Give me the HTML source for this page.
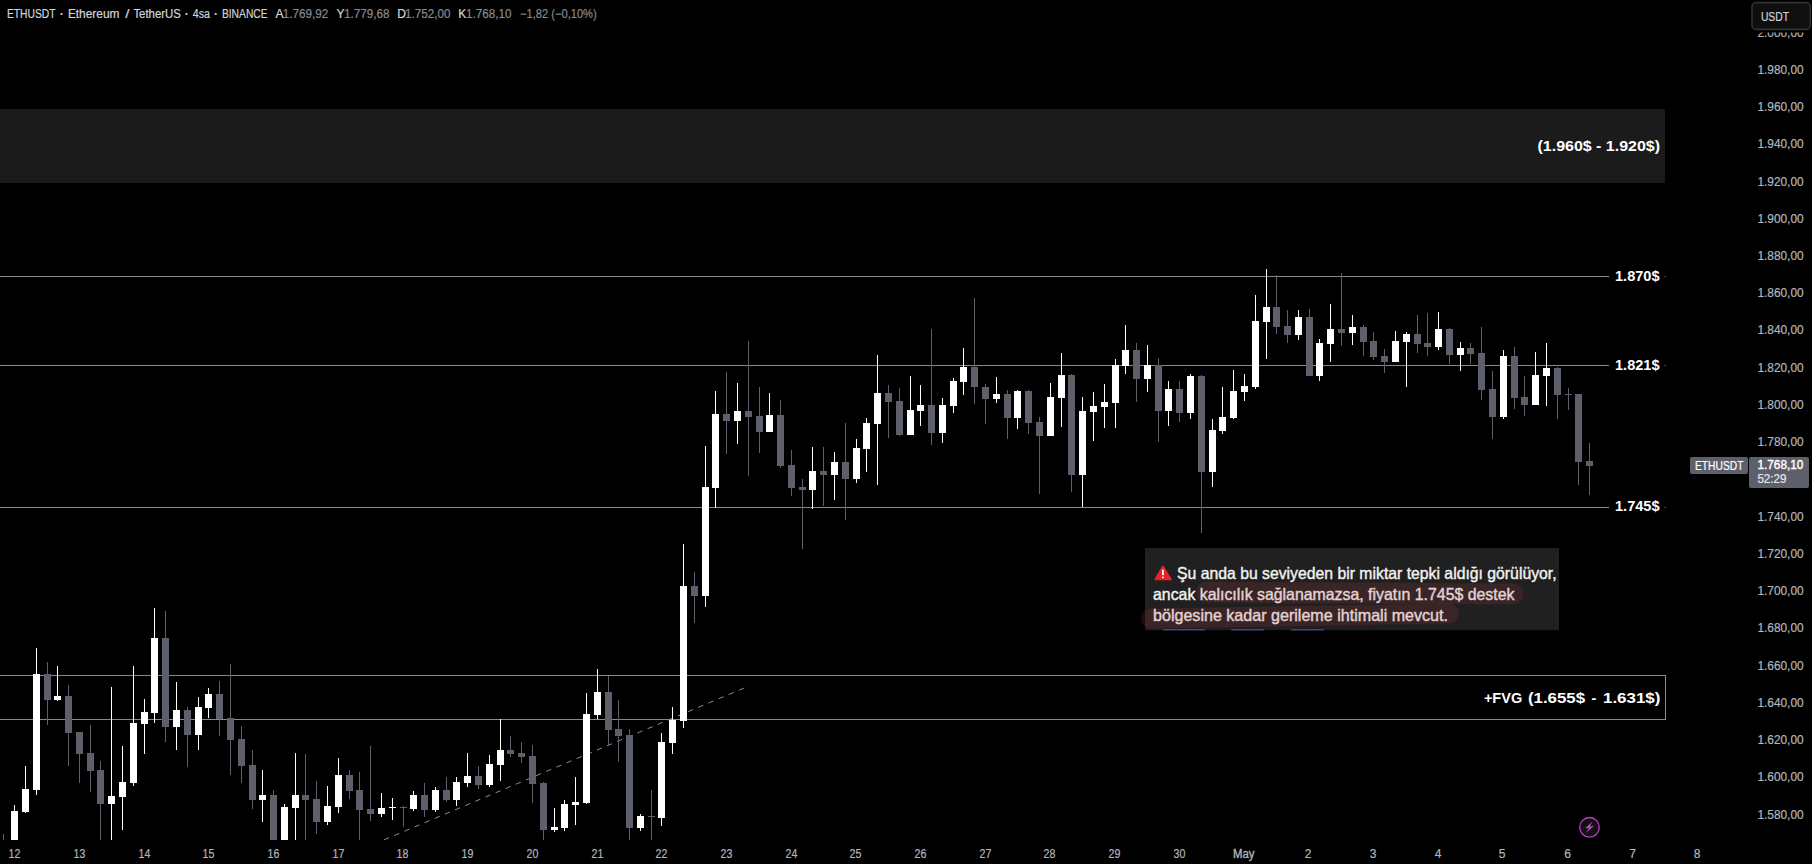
<!DOCTYPE html>
<html lang="tr"><head><meta charset="utf-8"><title>ETHUSDT</title>
<style>
html,body{margin:0;padding:0;background:#000;overflow:hidden}
body{width:1812px;height:864px;font-family:"Liberation Sans", Arial, sans-serif}
svg{display:block}
</style></head><body>
<svg width="1812" height="864" viewBox="0 0 1812 864" font-family='"Liberation Sans", Arial, sans-serif' shape-rendering="crispEdges">
<rect width="1812" height="864" fill="#000"/>
<rect x="0" y="109" width="1665" height="74" fill="#1b1b1b"/>
<rect x="0" y="276" width="1609" height="1" fill="#8a8a8a"/>
<rect x="0" y="365" width="1609" height="1" fill="#8a8a8a"/>
<rect x="0" y="507" width="1609" height="1" fill="#8a8a8a"/>
<rect x="1664" y="276" width="2" height="1" fill="#3c3c3c"/>
<rect x="1664" y="365" width="2" height="1" fill="#3c3c3c"/>
<rect x="1664" y="507" width="2" height="1" fill="#3c3c3c"/>
<rect x="-2.5" y="675.5" width="1668" height="44" fill="none" stroke="#8a8a8a" stroke-width="1"/>
<line x1="383.6" y1="840" x2="744.2" y2="688" stroke="#8f8f8f" stroke-width="1" stroke-dasharray="5.4 5.6" stroke-dashoffset="-0.5" shape-rendering="geometricPrecision"/>
<g>
<rect x="3" y="834" width="1" height="6" fill="#5d606b"/>
<rect x="14" y="805" width="1" height="35" fill="#ffffff"/>
<rect x="11" y="811" width="7" height="29" fill="#ffffff"/>
<rect x="25" y="766" width="1" height="47" fill="#ffffff"/>
<rect x="22" y="789" width="7" height="23" fill="#ffffff"/>
<rect x="36" y="648" width="1" height="147" fill="#ffffff"/>
<rect x="33" y="674" width="7" height="116" fill="#ffffff"/>
<rect x="47" y="662" width="1" height="63" fill="#5d606b"/>
<rect x="44" y="674" width="7" height="26" fill="#5d606b"/>
<rect x="57" y="666" width="1" height="35" fill="#ffffff"/>
<rect x="54" y="696" width="7" height="4" fill="#ffffff"/>
<rect x="68" y="685" width="1" height="81" fill="#5d606b"/>
<rect x="65" y="696" width="7" height="37" fill="#5d606b"/>
<rect x="79" y="732" width="1" height="51" fill="#5d606b"/>
<rect x="76" y="732" width="7" height="22" fill="#5d606b"/>
<rect x="90" y="725" width="1" height="67" fill="#5d606b"/>
<rect x="87" y="753" width="7" height="18" fill="#5d606b"/>
<rect x="100" y="761" width="1" height="79" fill="#5d606b"/>
<rect x="97" y="770" width="7" height="34" fill="#5d606b"/>
<rect x="111" y="687" width="1" height="153" fill="#ffffff"/>
<rect x="108" y="796" width="7" height="8" fill="#ffffff"/>
<rect x="122" y="746" width="1" height="84" fill="#ffffff"/>
<rect x="119" y="782" width="7" height="15" fill="#ffffff"/>
<rect x="133" y="666" width="1" height="120" fill="#ffffff"/>
<rect x="130" y="723" width="7" height="60" fill="#ffffff"/>
<rect x="144" y="699" width="1" height="55" fill="#ffffff"/>
<rect x="141" y="712" width="7" height="12" fill="#ffffff"/>
<rect x="154" y="608" width="1" height="115" fill="#ffffff"/>
<rect x="151" y="638" width="7" height="75" fill="#ffffff"/>
<rect x="165" y="611" width="1" height="131" fill="#5d606b"/>
<rect x="162" y="638" width="7" height="89" fill="#5d606b"/>
<rect x="176" y="682" width="1" height="68" fill="#ffffff"/>
<rect x="173" y="710" width="7" height="17" fill="#ffffff"/>
<rect x="187" y="707" width="1" height="60" fill="#5d606b"/>
<rect x="184" y="710" width="7" height="25" fill="#5d606b"/>
<rect x="198" y="697" width="1" height="53" fill="#ffffff"/>
<rect x="195" y="707" width="7" height="28" fill="#ffffff"/>
<rect x="208" y="688" width="1" height="30" fill="#ffffff"/>
<rect x="205" y="694" width="7" height="14" fill="#ffffff"/>
<rect x="219" y="681" width="1" height="55" fill="#5d606b"/>
<rect x="216" y="694" width="7" height="25" fill="#5d606b"/>
<rect x="230" y="664" width="1" height="111" fill="#5d606b"/>
<rect x="227" y="718" width="7" height="22" fill="#5d606b"/>
<rect x="241" y="726" width="1" height="57" fill="#5d606b"/>
<rect x="238" y="739" width="7" height="27" fill="#5d606b"/>
<rect x="252" y="750" width="1" height="59" fill="#5d606b"/>
<rect x="249" y="765" width="7" height="35" fill="#5d606b"/>
<rect x="262" y="770" width="1" height="52" fill="#ffffff"/>
<rect x="259" y="795" width="7" height="5" fill="#ffffff"/>
<rect x="273" y="790" width="1" height="50" fill="#5d606b"/>
<rect x="270" y="795" width="7" height="45" fill="#5d606b"/>
<rect x="284" y="804" width="1" height="36" fill="#ffffff"/>
<rect x="281" y="807" width="7" height="33" fill="#ffffff"/>
<rect x="295" y="753" width="1" height="87" fill="#ffffff"/>
<rect x="292" y="795" width="7" height="13" fill="#ffffff"/>
<rect x="305" y="754" width="1" height="86" fill="#5d606b"/>
<rect x="302" y="795" width="7" height="5" fill="#5d606b"/>
<rect x="316" y="781" width="1" height="53" fill="#5d606b"/>
<rect x="313" y="799" width="7" height="23" fill="#5d606b"/>
<rect x="327" y="786" width="1" height="39" fill="#ffffff"/>
<rect x="324" y="806" width="7" height="16" fill="#ffffff"/>
<rect x="338" y="758" width="1" height="55" fill="#ffffff"/>
<rect x="335" y="775" width="7" height="32" fill="#ffffff"/>
<rect x="349" y="770" width="1" height="29" fill="#5d606b"/>
<rect x="346" y="775" width="7" height="16" fill="#5d606b"/>
<rect x="359" y="772" width="1" height="68" fill="#5d606b"/>
<rect x="356" y="790" width="7" height="20" fill="#5d606b"/>
<rect x="370" y="746" width="1" height="75" fill="#5d606b"/>
<rect x="367" y="809" width="7" height="5" fill="#5d606b"/>
<rect x="381" y="793" width="1" height="24" fill="#ffffff"/>
<rect x="378" y="808" width="7" height="6" fill="#ffffff"/>
<rect x="392" y="798" width="1" height="22" fill="#ffffff"/>
<rect x="389" y="807" width="7" height="1" fill="#ffffff"/>
<rect x="403" y="806" width="1" height="21" fill="#5d606b"/>
<rect x="400" y="807" width="7" height="1" fill="#5d606b"/>
<rect x="413" y="791" width="1" height="20" fill="#ffffff"/>
<rect x="410" y="795" width="7" height="14" fill="#ffffff"/>
<rect x="424" y="783" width="1" height="34" fill="#5d606b"/>
<rect x="421" y="795" width="7" height="15" fill="#5d606b"/>
<rect x="435" y="787" width="1" height="25" fill="#ffffff"/>
<rect x="432" y="790" width="7" height="20" fill="#ffffff"/>
<rect x="446" y="777" width="1" height="25" fill="#5d606b"/>
<rect x="443" y="790" width="7" height="10" fill="#5d606b"/>
<rect x="456" y="777" width="1" height="29" fill="#ffffff"/>
<rect x="453" y="782" width="7" height="18" fill="#ffffff"/>
<rect x="467" y="753" width="1" height="34" fill="#ffffff"/>
<rect x="464" y="776" width="7" height="7" fill="#ffffff"/>
<rect x="478" y="766" width="1" height="23" fill="#5d606b"/>
<rect x="475" y="776" width="7" height="9" fill="#5d606b"/>
<rect x="489" y="755" width="1" height="32" fill="#ffffff"/>
<rect x="486" y="764" width="7" height="21" fill="#ffffff"/>
<rect x="500" y="719" width="1" height="62" fill="#ffffff"/>
<rect x="497" y="750" width="7" height="15" fill="#ffffff"/>
<rect x="510" y="736" width="1" height="21" fill="#5d606b"/>
<rect x="507" y="750" width="7" height="4" fill="#5d606b"/>
<rect x="521" y="742" width="1" height="21" fill="#5d606b"/>
<rect x="518" y="753" width="7" height="4" fill="#5d606b"/>
<rect x="532" y="745" width="1" height="58" fill="#5d606b"/>
<rect x="529" y="756" width="7" height="28" fill="#5d606b"/>
<rect x="543" y="782" width="1" height="58" fill="#5d606b"/>
<rect x="540" y="783" width="7" height="47" fill="#5d606b"/>
<rect x="554" y="808" width="1" height="24" fill="#ffffff"/>
<rect x="551" y="827" width="7" height="3" fill="#ffffff"/>
<rect x="564" y="800" width="1" height="31" fill="#ffffff"/>
<rect x="561" y="804" width="7" height="24" fill="#ffffff"/>
<rect x="575" y="777" width="1" height="48" fill="#ffffff"/>
<rect x="572" y="802" width="7" height="3" fill="#ffffff"/>
<rect x="586" y="693" width="1" height="111" fill="#ffffff"/>
<rect x="583" y="714" width="7" height="89" fill="#ffffff"/>
<rect x="597" y="669" width="1" height="50" fill="#ffffff"/>
<rect x="594" y="692" width="7" height="23" fill="#ffffff"/>
<rect x="608" y="676" width="1" height="69" fill="#5d606b"/>
<rect x="605" y="692" width="7" height="38" fill="#5d606b"/>
<rect x="618" y="700" width="1" height="62" fill="#5d606b"/>
<rect x="615" y="729" width="7" height="7" fill="#5d606b"/>
<rect x="629" y="729" width="1" height="111" fill="#5d606b"/>
<rect x="626" y="735" width="7" height="93" fill="#5d606b"/>
<rect x="640" y="814" width="1" height="17" fill="#ffffff"/>
<rect x="637" y="816" width="7" height="12" fill="#ffffff"/>
<rect x="651" y="790" width="1" height="50" fill="#5d606b"/>
<rect x="648" y="816" width="7" height="1" fill="#5d606b"/>
<rect x="661" y="733" width="1" height="93" fill="#ffffff"/>
<rect x="658" y="742" width="7" height="76" fill="#ffffff"/>
<rect x="672" y="707" width="1" height="47" fill="#ffffff"/>
<rect x="669" y="720" width="7" height="23" fill="#ffffff"/>
<rect x="683" y="544" width="1" height="184" fill="#ffffff"/>
<rect x="680" y="586" width="7" height="135" fill="#ffffff"/>
<rect x="694" y="572" width="1" height="51" fill="#5d606b"/>
<rect x="691" y="586" width="7" height="10" fill="#5d606b"/>
<rect x="705" y="446" width="1" height="161" fill="#ffffff"/>
<rect x="702" y="487" width="7" height="109" fill="#ffffff"/>
<rect x="715" y="391" width="1" height="117" fill="#ffffff"/>
<rect x="712" y="414" width="7" height="74" fill="#ffffff"/>
<rect x="726" y="372" width="1" height="82" fill="#5d606b"/>
<rect x="723" y="414" width="7" height="7" fill="#5d606b"/>
<rect x="737" y="383" width="1" height="61" fill="#ffffff"/>
<rect x="734" y="411" width="7" height="10" fill="#ffffff"/>
<rect x="748" y="341" width="1" height="135" fill="#5d606b"/>
<rect x="745" y="411" width="7" height="6" fill="#5d606b"/>
<rect x="759" y="387" width="1" height="66" fill="#5d606b"/>
<rect x="756" y="416" width="7" height="16" fill="#5d606b"/>
<rect x="769" y="393" width="1" height="39" fill="#ffffff"/>
<rect x="766" y="415" width="7" height="17" fill="#ffffff"/>
<rect x="780" y="400" width="1" height="68" fill="#5d606b"/>
<rect x="777" y="415" width="7" height="51" fill="#5d606b"/>
<rect x="791" y="450" width="1" height="46" fill="#5d606b"/>
<rect x="788" y="465" width="7" height="23" fill="#5d606b"/>
<rect x="802" y="479" width="1" height="70" fill="#5d606b"/>
<rect x="799" y="487" width="7" height="3" fill="#5d606b"/>
<rect x="812" y="447" width="1" height="62" fill="#ffffff"/>
<rect x="809" y="471" width="7" height="19" fill="#ffffff"/>
<rect x="823" y="447" width="1" height="59" fill="#5d606b"/>
<rect x="820" y="471" width="7" height="4" fill="#5d606b"/>
<rect x="834" y="452" width="1" height="48" fill="#ffffff"/>
<rect x="831" y="462" width="7" height="13" fill="#ffffff"/>
<rect x="845" y="423" width="1" height="97" fill="#5d606b"/>
<rect x="842" y="462" width="7" height="17" fill="#5d606b"/>
<rect x="856" y="439" width="1" height="44" fill="#ffffff"/>
<rect x="853" y="448" width="7" height="31" fill="#ffffff"/>
<rect x="866" y="418" width="1" height="54" fill="#ffffff"/>
<rect x="863" y="423" width="7" height="26" fill="#ffffff"/>
<rect x="877" y="355" width="1" height="130" fill="#ffffff"/>
<rect x="874" y="393" width="7" height="31" fill="#ffffff"/>
<rect x="888" y="385" width="1" height="53" fill="#5d606b"/>
<rect x="885" y="393" width="7" height="9" fill="#5d606b"/>
<rect x="899" y="388" width="1" height="48" fill="#5d606b"/>
<rect x="896" y="401" width="7" height="34" fill="#5d606b"/>
<rect x="910" y="376" width="1" height="59" fill="#ffffff"/>
<rect x="907" y="410" width="7" height="25" fill="#ffffff"/>
<rect x="920" y="385" width="1" height="41" fill="#ffffff"/>
<rect x="917" y="405" width="7" height="6" fill="#ffffff"/>
<rect x="931" y="329" width="1" height="116" fill="#5d606b"/>
<rect x="928" y="405" width="7" height="28" fill="#5d606b"/>
<rect x="942" y="398" width="1" height="45" fill="#ffffff"/>
<rect x="939" y="405" width="7" height="28" fill="#ffffff"/>
<rect x="953" y="378" width="1" height="35" fill="#ffffff"/>
<rect x="950" y="381" width="7" height="25" fill="#ffffff"/>
<rect x="963" y="348" width="1" height="47" fill="#ffffff"/>
<rect x="960" y="367" width="7" height="15" fill="#ffffff"/>
<rect x="974" y="298" width="1" height="106" fill="#5d606b"/>
<rect x="971" y="367" width="7" height="20" fill="#5d606b"/>
<rect x="985" y="384" width="1" height="40" fill="#5d606b"/>
<rect x="982" y="387" width="7" height="12" fill="#5d606b"/>
<rect x="996" y="377" width="1" height="26" fill="#ffffff"/>
<rect x="993" y="394" width="7" height="5" fill="#ffffff"/>
<rect x="1007" y="390" width="1" height="49" fill="#5d606b"/>
<rect x="1004" y="394" width="7" height="24" fill="#5d606b"/>
<rect x="1017" y="390" width="1" height="39" fill="#ffffff"/>
<rect x="1014" y="391" width="7" height="27" fill="#ffffff"/>
<rect x="1028" y="390" width="1" height="44" fill="#5d606b"/>
<rect x="1025" y="391" width="7" height="32" fill="#5d606b"/>
<rect x="1039" y="417" width="1" height="77" fill="#5d606b"/>
<rect x="1036" y="422" width="7" height="14" fill="#5d606b"/>
<rect x="1050" y="383" width="1" height="53" fill="#ffffff"/>
<rect x="1047" y="397" width="7" height="39" fill="#ffffff"/>
<rect x="1061" y="353" width="1" height="74" fill="#ffffff"/>
<rect x="1058" y="375" width="7" height="23" fill="#ffffff"/>
<rect x="1071" y="374" width="1" height="118" fill="#5d606b"/>
<rect x="1068" y="375" width="7" height="100" fill="#5d606b"/>
<rect x="1082" y="397" width="1" height="110" fill="#ffffff"/>
<rect x="1079" y="411" width="7" height="64" fill="#ffffff"/>
<rect x="1093" y="392" width="1" height="49" fill="#ffffff"/>
<rect x="1090" y="406" width="7" height="6" fill="#ffffff"/>
<rect x="1104" y="384" width="1" height="44" fill="#ffffff"/>
<rect x="1101" y="402" width="7" height="5" fill="#ffffff"/>
<rect x="1115" y="359" width="1" height="69" fill="#ffffff"/>
<rect x="1112" y="365" width="7" height="38" fill="#ffffff"/>
<rect x="1125" y="325" width="1" height="49" fill="#ffffff"/>
<rect x="1122" y="350" width="7" height="16" fill="#ffffff"/>
<rect x="1136" y="343" width="1" height="59" fill="#5d606b"/>
<rect x="1133" y="350" width="7" height="29" fill="#5d606b"/>
<rect x="1147" y="345" width="1" height="47" fill="#ffffff"/>
<rect x="1144" y="365" width="7" height="14" fill="#ffffff"/>
<rect x="1158" y="358" width="1" height="84" fill="#5d606b"/>
<rect x="1155" y="365" width="7" height="46" fill="#5d606b"/>
<rect x="1168" y="381" width="1" height="45" fill="#ffffff"/>
<rect x="1165" y="389" width="7" height="22" fill="#ffffff"/>
<rect x="1179" y="381" width="1" height="41" fill="#5d606b"/>
<rect x="1176" y="389" width="7" height="24" fill="#5d606b"/>
<rect x="1190" y="374" width="1" height="45" fill="#ffffff"/>
<rect x="1187" y="376" width="7" height="37" fill="#ffffff"/>
<rect x="1201" y="375" width="1" height="158" fill="#5d606b"/>
<rect x="1198" y="376" width="7" height="96" fill="#5d606b"/>
<rect x="1212" y="419" width="1" height="68" fill="#ffffff"/>
<rect x="1209" y="430" width="7" height="42" fill="#ffffff"/>
<rect x="1222" y="387" width="1" height="47" fill="#ffffff"/>
<rect x="1219" y="417" width="7" height="14" fill="#ffffff"/>
<rect x="1233" y="370" width="1" height="49" fill="#ffffff"/>
<rect x="1230" y="391" width="7" height="27" fill="#ffffff"/>
<rect x="1244" y="374" width="1" height="27" fill="#ffffff"/>
<rect x="1241" y="386" width="7" height="6" fill="#ffffff"/>
<rect x="1255" y="295" width="1" height="94" fill="#ffffff"/>
<rect x="1252" y="321" width="7" height="66" fill="#ffffff"/>
<rect x="1266" y="269" width="1" height="90" fill="#ffffff"/>
<rect x="1263" y="307" width="7" height="15" fill="#ffffff"/>
<rect x="1276" y="275" width="1" height="59" fill="#5d606b"/>
<rect x="1273" y="307" width="7" height="20" fill="#5d606b"/>
<rect x="1287" y="310" width="1" height="33" fill="#5d606b"/>
<rect x="1284" y="326" width="7" height="9" fill="#5d606b"/>
<rect x="1298" y="310" width="1" height="30" fill="#ffffff"/>
<rect x="1295" y="317" width="7" height="18" fill="#ffffff"/>
<rect x="1309" y="309" width="1" height="67" fill="#5d606b"/>
<rect x="1306" y="317" width="7" height="59" fill="#5d606b"/>
<rect x="1319" y="339" width="1" height="42" fill="#ffffff"/>
<rect x="1316" y="343" width="7" height="33" fill="#ffffff"/>
<rect x="1330" y="304" width="1" height="58" fill="#ffffff"/>
<rect x="1327" y="329" width="7" height="15" fill="#ffffff"/>
<rect x="1341" y="273" width="1" height="73" fill="#5d606b"/>
<rect x="1338" y="329" width="7" height="4" fill="#5d606b"/>
<rect x="1352" y="315" width="1" height="30" fill="#ffffff"/>
<rect x="1349" y="327" width="7" height="6" fill="#ffffff"/>
<rect x="1363" y="325" width="1" height="31" fill="#5d606b"/>
<rect x="1360" y="327" width="7" height="15" fill="#5d606b"/>
<rect x="1373" y="332" width="1" height="28" fill="#5d606b"/>
<rect x="1370" y="341" width="7" height="16" fill="#5d606b"/>
<rect x="1384" y="349" width="1" height="24" fill="#5d606b"/>
<rect x="1381" y="356" width="7" height="6" fill="#5d606b"/>
<rect x="1395" y="331" width="1" height="31" fill="#ffffff"/>
<rect x="1392" y="341" width="7" height="21" fill="#ffffff"/>
<rect x="1406" y="332" width="1" height="55" fill="#ffffff"/>
<rect x="1403" y="334" width="7" height="8" fill="#ffffff"/>
<rect x="1417" y="315" width="1" height="38" fill="#5d606b"/>
<rect x="1414" y="334" width="7" height="10" fill="#5d606b"/>
<rect x="1427" y="313" width="1" height="43" fill="#5d606b"/>
<rect x="1424" y="343" width="7" height="4" fill="#5d606b"/>
<rect x="1438" y="312" width="1" height="38" fill="#ffffff"/>
<rect x="1435" y="329" width="7" height="18" fill="#ffffff"/>
<rect x="1449" y="328" width="1" height="36" fill="#5d606b"/>
<rect x="1446" y="329" width="7" height="26" fill="#5d606b"/>
<rect x="1460" y="342" width="1" height="29" fill="#ffffff"/>
<rect x="1457" y="348" width="7" height="7" fill="#ffffff"/>
<rect x="1470" y="343" width="1" height="21" fill="#5d606b"/>
<rect x="1467" y="348" width="7" height="6" fill="#5d606b"/>
<rect x="1481" y="327" width="1" height="73" fill="#5d606b"/>
<rect x="1478" y="353" width="7" height="37" fill="#5d606b"/>
<rect x="1492" y="371" width="1" height="68" fill="#5d606b"/>
<rect x="1489" y="389" width="7" height="28" fill="#5d606b"/>
<rect x="1503" y="350" width="1" height="69" fill="#ffffff"/>
<rect x="1500" y="356" width="7" height="61" fill="#ffffff"/>
<rect x="1514" y="347" width="1" height="62" fill="#5d606b"/>
<rect x="1511" y="356" width="7" height="42" fill="#5d606b"/>
<rect x="1524" y="376" width="1" height="40" fill="#5d606b"/>
<rect x="1521" y="397" width="7" height="8" fill="#5d606b"/>
<rect x="1535" y="352" width="1" height="53" fill="#ffffff"/>
<rect x="1532" y="375" width="7" height="30" fill="#ffffff"/>
<rect x="1546" y="343" width="1" height="63" fill="#ffffff"/>
<rect x="1543" y="368" width="7" height="8" fill="#ffffff"/>
<rect x="1557" y="367" width="1" height="52" fill="#5d606b"/>
<rect x="1554" y="368" width="7" height="27" fill="#5d606b"/>
<rect x="1568" y="388" width="1" height="22" fill="#5d606b"/>
<rect x="1565" y="394" width="7" height="1" fill="#5d606b"/>
<rect x="1578" y="394" width="1" height="91" fill="#5d606b"/>
<rect x="1575" y="394" width="7" height="68" fill="#5d606b"/>
<rect x="1589" y="443" width="1" height="52" fill="#5d606b"/>
<rect x="1586" y="461" width="7" height="5" fill="#5d606b"/>
</g>
<rect x="0" y="840" width="1812" height="24" fill="#000"/>
<g shape-rendering="geometricPrecision">
<text y="17.96" font-size="12"><tspan x="6.9" fill="#d1d4dc" textLength="48.4" lengthAdjust="spacingAndGlyphs" stroke="#d1d4dc" stroke-width="0.2">ETHUSDT</tspan> <tspan x="59.7" fill="#d1d4dc" font-weight="bold">·</tspan> <tspan x="67.9" fill="#d1d4dc" textLength="51.5" lengthAdjust="spacingAndGlyphs" stroke="#d1d4dc" stroke-width="0.2">Ethereum</tspan> <tspan x="125.2" fill="#d1d4dc" textLength="4.2" lengthAdjust="spacingAndGlyphs" stroke="#d1d4dc" stroke-width="0.2">/</tspan> <tspan x="133.4" fill="#d1d4dc" textLength="47.6" lengthAdjust="spacingAndGlyphs" stroke="#d1d4dc" stroke-width="0.2">TetherUS</tspan> <tspan x="184.7" fill="#d1d4dc" font-weight="bold">·</tspan> <tspan x="192.8" fill="#d1d4dc" textLength="17.2" lengthAdjust="spacingAndGlyphs" stroke="#d1d4dc" stroke-width="0.2">4sa</tspan> <tspan x="214.0" fill="#d1d4dc" font-weight="bold">·</tspan> <tspan x="221.9" fill="#d1d4dc" textLength="45.7" lengthAdjust="spacingAndGlyphs" stroke="#d1d4dc" stroke-width="0.2">BINANCE</tspan> <tspan x="275.5" fill="#d1d4dc" stroke="#d1d4dc" stroke-width="0.2">A</tspan> <tspan x="282.7" fill="#868993" textLength="45.6" lengthAdjust="spacingAndGlyphs" stroke="#868993" stroke-width="0.2">1.769,92</tspan> <tspan x="336.5" fill="#d1d4dc" stroke="#d1d4dc" stroke-width="0.2">Y</tspan> <tspan x="344" fill="#868993" textLength="45.6" lengthAdjust="spacingAndGlyphs" stroke="#868993" stroke-width="0.2">1.779,68</tspan> <tspan x="397.3" fill="#d1d4dc" stroke="#d1d4dc" stroke-width="0.2">D</tspan> <tspan x="405" fill="#868993" textLength="45.6" lengthAdjust="spacingAndGlyphs" stroke="#868993" stroke-width="0.2">1.752,00</tspan> <tspan x="458.3" fill="#d1d4dc" stroke="#d1d4dc" stroke-width="0.2">K</tspan> <tspan x="466" fill="#868993" textLength="45.6" lengthAdjust="spacingAndGlyphs" stroke="#868993" stroke-width="0.2">1.768,10</tspan> <tspan x="520" fill="#868993" textLength="76.7" lengthAdjust="spacingAndGlyphs" stroke="#868993" stroke-width="0.2">−1,82 (−0,10%)</tspan></text>
<text x="1660" y="150.65" font-size="14.5" fill="#fff" font-weight="bold" text-anchor="end" textLength="122.5" lengthAdjust="spacingAndGlyphs">(1.960$ - 1.920$)</text>
<text x="1659.5" y="281.15" font-size="14.5" fill="#fff" font-weight="bold" text-anchor="end" textLength="44.5" lengthAdjust="spacingAndGlyphs">1.870$</text>
<text x="1659.5" y="369.65" font-size="14.5" fill="#fff" font-weight="bold" text-anchor="end" textLength="44.5" lengthAdjust="spacingAndGlyphs">1.821$</text>
<text x="1659.5" y="511.05" font-size="14.5" fill="#fff" font-weight="bold" text-anchor="end" textLength="44.5" lengthAdjust="spacingAndGlyphs">1.745$</text>
<text y="703.35" font-size="14.5" font-weight="bold"><tspan x="1483.9" fill="#fff" textLength="38.3" lengthAdjust="spacingAndGlyphs">+FVG</tspan> <tspan x="1528.0" fill="#fff" textLength="57.0" lengthAdjust="spacingAndGlyphs">(1.655$</tspan> <tspan x="1591.6" fill="#fff" textLength="4.8" lengthAdjust="spacingAndGlyphs">-</tspan> <tspan x="1603.0" fill="#fff" textLength="57.4" lengthAdjust="spacingAndGlyphs">1.631$)</tspan></text>
<text x="1803.6" y="36.62" font-size="12" fill="#b2b5be" text-anchor="end" textLength="46.2" lengthAdjust="spacingAndGlyphs" stroke="#b2b5be" stroke-width="0.2">2.000,00</text>
<text x="1803.6" y="73.85" font-size="12" fill="#b2b5be" text-anchor="end" textLength="46.2" lengthAdjust="spacingAndGlyphs" stroke="#b2b5be" stroke-width="0.2">1.980,00</text>
<text x="1803.6" y="111.09" font-size="12" fill="#b2b5be" text-anchor="end" textLength="46.2" lengthAdjust="spacingAndGlyphs" stroke="#b2b5be" stroke-width="0.2">1.960,00</text>
<text x="1803.6" y="148.32" font-size="12" fill="#b2b5be" text-anchor="end" textLength="46.2" lengthAdjust="spacingAndGlyphs" stroke="#b2b5be" stroke-width="0.2">1.940,00</text>
<text x="1803.6" y="185.55" font-size="12" fill="#b2b5be" text-anchor="end" textLength="46.2" lengthAdjust="spacingAndGlyphs" stroke="#b2b5be" stroke-width="0.2">1.920,00</text>
<text x="1803.6" y="222.79" font-size="12" fill="#b2b5be" text-anchor="end" textLength="46.2" lengthAdjust="spacingAndGlyphs" stroke="#b2b5be" stroke-width="0.2">1.900,00</text>
<text x="1803.6" y="260.02" font-size="12" fill="#b2b5be" text-anchor="end" textLength="46.2" lengthAdjust="spacingAndGlyphs" stroke="#b2b5be" stroke-width="0.2">1.880,00</text>
<text x="1803.6" y="297.26" font-size="12" fill="#b2b5be" text-anchor="end" textLength="46.2" lengthAdjust="spacingAndGlyphs" stroke="#b2b5be" stroke-width="0.2">1.860,00</text>
<text x="1803.6" y="334.49" font-size="12" fill="#b2b5be" text-anchor="end" textLength="46.2" lengthAdjust="spacingAndGlyphs" stroke="#b2b5be" stroke-width="0.2">1.840,00</text>
<text x="1803.6" y="371.72" font-size="12" fill="#b2b5be" text-anchor="end" textLength="46.2" lengthAdjust="spacingAndGlyphs" stroke="#b2b5be" stroke-width="0.2">1.820,00</text>
<text x="1803.6" y="408.96" font-size="12" fill="#b2b5be" text-anchor="end" textLength="46.2" lengthAdjust="spacingAndGlyphs" stroke="#b2b5be" stroke-width="0.2">1.800,00</text>
<text x="1803.6" y="446.19" font-size="12" fill="#b2b5be" text-anchor="end" textLength="46.2" lengthAdjust="spacingAndGlyphs" stroke="#b2b5be" stroke-width="0.2">1.780,00</text>
<text x="1803.6" y="483.43" font-size="12" fill="#b2b5be" text-anchor="end" textLength="46.2" lengthAdjust="spacingAndGlyphs" stroke="#b2b5be" stroke-width="0.2">1.760,00</text>
<text x="1803.6" y="520.66" font-size="12" fill="#b2b5be" text-anchor="end" textLength="46.2" lengthAdjust="spacingAndGlyphs" stroke="#b2b5be" stroke-width="0.2">1.740,00</text>
<text x="1803.6" y="557.89" font-size="12" fill="#b2b5be" text-anchor="end" textLength="46.2" lengthAdjust="spacingAndGlyphs" stroke="#b2b5be" stroke-width="0.2">1.720,00</text>
<text x="1803.6" y="595.13" font-size="12" fill="#b2b5be" text-anchor="end" textLength="46.2" lengthAdjust="spacingAndGlyphs" stroke="#b2b5be" stroke-width="0.2">1.700,00</text>
<text x="1803.6" y="632.36" font-size="12" fill="#b2b5be" text-anchor="end" textLength="46.2" lengthAdjust="spacingAndGlyphs" stroke="#b2b5be" stroke-width="0.2">1.680,00</text>
<text x="1803.6" y="669.60" font-size="12" fill="#b2b5be" text-anchor="end" textLength="46.2" lengthAdjust="spacingAndGlyphs" stroke="#b2b5be" stroke-width="0.2">1.660,00</text>
<text x="1803.6" y="706.83" font-size="12" fill="#b2b5be" text-anchor="end" textLength="46.2" lengthAdjust="spacingAndGlyphs" stroke="#b2b5be" stroke-width="0.2">1.640,00</text>
<text x="1803.6" y="744.06" font-size="12" fill="#b2b5be" text-anchor="end" textLength="46.2" lengthAdjust="spacingAndGlyphs" stroke="#b2b5be" stroke-width="0.2">1.620,00</text>
<text x="1803.6" y="781.30" font-size="12" fill="#b2b5be" text-anchor="end" textLength="46.2" lengthAdjust="spacingAndGlyphs" stroke="#b2b5be" stroke-width="0.2">1.600,00</text>
<text x="1803.6" y="818.53" font-size="12" fill="#b2b5be" text-anchor="end" textLength="46.2" lengthAdjust="spacingAndGlyphs" stroke="#b2b5be" stroke-width="0.2">1.580,00</text>
<rect x="1745" y="0" width="67" height="32.5" fill="#000"/>
<rect x="1752" y="2.6" width="58.2" height="26.8" rx="4" fill="#0f0f0f" stroke="#303030" stroke-width="1.6"/>
<text x="1760.9" y="20.91" font-size="13" fill="#d1d4dc" textLength="28.1" lengthAdjust="spacingAndGlyphs" stroke="#d1d4dc" stroke-width="0.2">USDT</text>
<rect x="1690" y="457" width="58" height="17" rx="2" fill="#5d606b"/>
<text x="1695" y="470.06" font-size="12" fill="#fff" textLength="48.5" lengthAdjust="spacingAndGlyphs" stroke="#fff" stroke-width="0.2">ETHUSDT</text>
<rect x="1749" y="457" width="60" height="31" rx="2" fill="#5d606b"/>
<text x="1757.4" y="469.06" font-size="12" fill="#fff" textLength="46" lengthAdjust="spacingAndGlyphs" stroke="#fff" stroke-width="0.4">1.768,10</text>
<text x="1757.4" y="482.96" font-size="12" fill="#e6e7ea" textLength="29" lengthAdjust="spacingAndGlyphs" stroke="#e6e7ea" stroke-width="0.2">52:29</text>
<text x="8.6" y="858.26" font-size="12" fill="#b2b5be" textLength="11.8" lengthAdjust="spacingAndGlyphs" stroke="#b2b5be" stroke-width="0.2">12</text>
<text x="73.6" y="858.26" font-size="12" fill="#b2b5be" textLength="11.8" lengthAdjust="spacingAndGlyphs" stroke="#b2b5be" stroke-width="0.2">13</text>
<text x="138.6" y="858.26" font-size="12" fill="#b2b5be" textLength="11.8" lengthAdjust="spacingAndGlyphs" stroke="#b2b5be" stroke-width="0.2">14</text>
<text x="202.6" y="858.26" font-size="12" fill="#b2b5be" textLength="11.8" lengthAdjust="spacingAndGlyphs" stroke="#b2b5be" stroke-width="0.2">15</text>
<text x="267.6" y="858.26" font-size="12" fill="#b2b5be" textLength="11.8" lengthAdjust="spacingAndGlyphs" stroke="#b2b5be" stroke-width="0.2">16</text>
<text x="332.6" y="858.26" font-size="12" fill="#b2b5be" textLength="11.8" lengthAdjust="spacingAndGlyphs" stroke="#b2b5be" stroke-width="0.2">17</text>
<text x="396.6" y="858.26" font-size="12" fill="#b2b5be" textLength="11.8" lengthAdjust="spacingAndGlyphs" stroke="#b2b5be" stroke-width="0.2">18</text>
<text x="461.6" y="858.26" font-size="12" fill="#b2b5be" textLength="11.8" lengthAdjust="spacingAndGlyphs" stroke="#b2b5be" stroke-width="0.2">19</text>
<text x="526.6" y="858.26" font-size="12" fill="#b2b5be" textLength="11.8" lengthAdjust="spacingAndGlyphs" stroke="#b2b5be" stroke-width="0.2">20</text>
<text x="591.6" y="858.26" font-size="12" fill="#b2b5be" textLength="11.8" lengthAdjust="spacingAndGlyphs" stroke="#b2b5be" stroke-width="0.2">21</text>
<text x="655.6" y="858.26" font-size="12" fill="#b2b5be" textLength="11.8" lengthAdjust="spacingAndGlyphs" stroke="#b2b5be" stroke-width="0.2">22</text>
<text x="720.6" y="858.26" font-size="12" fill="#b2b5be" textLength="11.8" lengthAdjust="spacingAndGlyphs" stroke="#b2b5be" stroke-width="0.2">23</text>
<text x="785.6" y="858.26" font-size="12" fill="#b2b5be" textLength="11.8" lengthAdjust="spacingAndGlyphs" stroke="#b2b5be" stroke-width="0.2">24</text>
<text x="849.6" y="858.26" font-size="12" fill="#b2b5be" textLength="11.8" lengthAdjust="spacingAndGlyphs" stroke="#b2b5be" stroke-width="0.2">25</text>
<text x="914.6" y="858.26" font-size="12" fill="#b2b5be" textLength="11.8" lengthAdjust="spacingAndGlyphs" stroke="#b2b5be" stroke-width="0.2">26</text>
<text x="979.6" y="858.26" font-size="12" fill="#b2b5be" textLength="11.8" lengthAdjust="spacingAndGlyphs" stroke="#b2b5be" stroke-width="0.2">27</text>
<text x="1043.6" y="858.26" font-size="12" fill="#b2b5be" textLength="11.8" lengthAdjust="spacingAndGlyphs" stroke="#b2b5be" stroke-width="0.2">28</text>
<text x="1108.6" y="858.26" font-size="12" fill="#b2b5be" textLength="11.8" lengthAdjust="spacingAndGlyphs" stroke="#b2b5be" stroke-width="0.2">29</text>
<text x="1173.6" y="858.26" font-size="12" fill="#b2b5be" textLength="11.8" lengthAdjust="spacingAndGlyphs" stroke="#b2b5be" stroke-width="0.2">30</text>
<text x="1233" y="858.26" font-size="12" fill="#b2b5be" textLength="21.5" lengthAdjust="spacingAndGlyphs" stroke="#b2b5be" stroke-width="0.35">May</text>
<text x="1308" y="858.26" font-size="12" fill="#b2b5be" text-anchor="middle" stroke="#b2b5be" stroke-width="0.2">2</text>
<text x="1373" y="858.26" font-size="12" fill="#b2b5be" text-anchor="middle" stroke="#b2b5be" stroke-width="0.2">3</text>
<text x="1438" y="858.26" font-size="12" fill="#b2b5be" text-anchor="middle" stroke="#b2b5be" stroke-width="0.2">4</text>
<text x="1502" y="858.26" font-size="12" fill="#b2b5be" text-anchor="middle" stroke="#b2b5be" stroke-width="0.2">5</text>
<text x="1567.5" y="858.26" font-size="12" fill="#b2b5be" text-anchor="middle" stroke="#b2b5be" stroke-width="0.2">6</text>
<text x="1632.5" y="858.26" font-size="12" fill="#b2b5be" text-anchor="middle" stroke="#b2b5be" stroke-width="0.2">7</text>
<text x="1697" y="858.26" font-size="12" fill="#b2b5be" text-anchor="middle" stroke="#b2b5be" stroke-width="0.2">8</text>
<rect x="1145" y="548" width="414" height="82.2" fill="#202020"/>
<rect x="1163" y="629" width="42" height="1.6" rx="0.8" fill="#4b3f8a"/>
<rect x="1231" y="629" width="33" height="1.6" rx="0.8" fill="#4b3f8a"/>
<rect x="1291" y="629" width="33" height="1.6" rx="0.8" fill="#4b3f8a"/>
<path d="M1162.9 566.4 L1171.0 579.4 L1155.3 579.4 Z" fill="#e6222b" stroke="#e6222b" stroke-width="1.8" stroke-linejoin="round"/>
<rect x="1162.0" y="569.6" width="1.8" height="5.6" rx="0.6" fill="#fff"/><rect x="1162.0" y="576.4" width="1.8" height="1.8" rx="0.6" fill="#fff"/>
<text x="1177" y="579.36" font-size="16.5" fill="#f3f3f3" textLength="379.6" lengthAdjust="spacingAndGlyphs" stroke="#f3f3f3" stroke-width="0.38">Şu anda bu seviyeden bir miktar tepki aldığı görülüyor,</text>
<text x="1153" y="600.46" font-size="16.5" fill="#f3f3f3" textLength="361.4" lengthAdjust="spacingAndGlyphs" stroke="#f3f3f3" stroke-width="0.38">ancak kalıcılık sağlanamazsa, fiyatın 1.745$ destek</text>
<text x="1153" y="621.16" font-size="16.5" fill="#f3f3f3" textLength="295" lengthAdjust="spacingAndGlyphs" stroke="#f3f3f3" stroke-width="0.38">bölgesine kadar gerileme ihtimali mevcut.</text>
<line x1="1206.5" y1="592" x2="1513" y2="594" stroke="rgb(173,59,65)" stroke-opacity="0.185" stroke-width="21" stroke-linecap="round"/>
<line x1="1151" y1="618.6" x2="1449" y2="613.6" stroke="rgb(173,59,65)" stroke-opacity="0.185" stroke-width="20" stroke-linecap="round"/>
<circle cx="1589.5" cy="827.3" r="9.8" fill="#121212" stroke="#b93fc9" stroke-width="1.3"/>
<path d="M1592.4 821.8 L1585.0 828.3 L1589.1 828.0 L1585.6 833.0 L1594.0 826.0 L1589.8 826.4 Z" fill="#c246d3"/>
</g>
</svg>
</body></html>
